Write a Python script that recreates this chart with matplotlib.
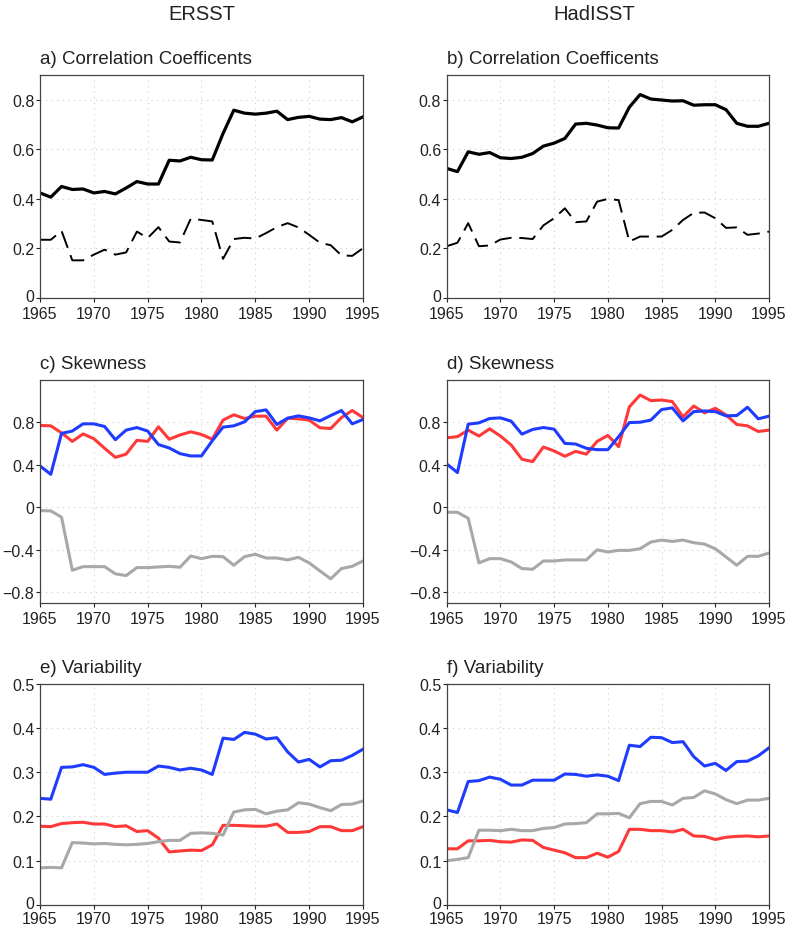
import numpy as np
import matplotlib
matplotlib.use('Agg')
import matplotlib.pyplot as plt
from matplotlib.transforms import ScaledTranslation

plt.rcParams['font.family'] = ['Liberation Sans', 'DejaVu Sans']

years = np.arange(1965, 1996)

# a) ERSST correlation coefficients
corr_ersst_solid = [0.424, 0.407, 0.45, 0.438, 0.44, 0.424, 0.43, 0.42, 0.444, 0.47, 0.46,
                    0.46, 0.556, 0.553, 0.568, 0.558, 0.557, 0.664, 0.758, 0.746, 0.742,
                    0.746, 0.754, 0.72, 0.729, 0.733, 0.722, 0.72, 0.728, 0.711, 0.731]
corr_ersst_dash = [0.235, 0.235, 0.271, 0.152, 0.152, 0.175, 0.195, 0.175, 0.184, 0.268, 0.242,
                   0.286, 0.228, 0.224, 0.32, 0.315, 0.309, 0.158, 0.238, 0.243, 0.24,
                   0.262, 0.286, 0.302, 0.285, 0.255, 0.223, 0.213, 0.172, 0.17, 0.201]
# b) HadISST correlation coefficients
corr_had_solid = [0.523, 0.51, 0.59, 0.58, 0.587, 0.566, 0.563, 0.568, 0.583, 0.613, 0.625,
                  0.644, 0.702, 0.705, 0.698, 0.687, 0.686, 0.77, 0.821, 0.803, 0.799,
                  0.795, 0.796, 0.778, 0.78, 0.78, 0.76, 0.705, 0.693, 0.693, 0.705]
corr_had_dash = [0.209, 0.223, 0.302, 0.209, 0.212, 0.236, 0.243, 0.242, 0.238, 0.293, 0.322,
                 0.362, 0.306, 0.309, 0.389, 0.4, 0.395, 0.228, 0.248, 0.248, 0.248,
                 0.275, 0.315, 0.344, 0.345, 0.322, 0.283, 0.285, 0.255, 0.26, 0.268]

# c) ERSST skewness
skew_ersst_red = [0.77, 0.766, 0.70, 0.62, 0.69, 0.645, 0.555, 0.47, 0.50, 0.63, 0.62,
                  0.757, 0.64, 0.68, 0.71, 0.685, 0.64, 0.82, 0.87, 0.835, 0.857,
                  0.857, 0.726, 0.838, 0.832, 0.82, 0.748, 0.741, 0.844, 0.91, 0.844]
skew_ersst_blue = [0.389, 0.31, 0.695, 0.717, 0.785, 0.785, 0.76, 0.636, 0.726, 0.75, 0.717,
                   0.59, 0.558, 0.505, 0.483, 0.483, 0.626, 0.754, 0.766, 0.804, 0.9,
                   0.916, 0.779, 0.838, 0.86, 0.841, 0.813, 0.863, 0.91, 0.785, 0.826]
skew_ersst_gray = [-0.031, -0.034, -0.093, -0.592, -0.558, -0.558, -0.558, -0.626, -0.642, -0.567, -0.567,
                   -0.561, -0.555, -0.564, -0.458, -0.483, -0.461, -0.464, -0.545, -0.464, -0.442,
                   -0.477, -0.477, -0.495, -0.47, -0.523, -0.598, -0.673, -0.576, -0.555, -0.505]
# d) HadISST skewness
skew_had_red = [0.654, 0.664, 0.726, 0.67, 0.738, 0.67, 0.586, 0.452, 0.43, 0.567, 0.53,
                0.48, 0.526, 0.50, 0.62, 0.676, 0.57, 0.944, 1.056, 1.003, 1.009,
                0.994, 0.85, 0.953, 0.888, 0.931, 0.869, 0.779, 0.766, 0.713, 0.726]
skew_had_blue = [0.408, 0.327, 0.782, 0.794, 0.835, 0.841, 0.81, 0.688, 0.732, 0.75, 0.735,
                 0.601, 0.595, 0.555, 0.542, 0.542, 0.664, 0.797, 0.8, 0.82, 0.919,
                 0.935, 0.813, 0.9, 0.906, 0.9, 0.86, 0.863, 0.941, 0.832, 0.857]
skew_had_gray = [-0.047, -0.047, -0.103, -0.523, -0.483, -0.483, -0.514, -0.576, -0.583, -0.505, -0.505,
                 -0.495, -0.495, -0.495, -0.40, -0.42, -0.405, -0.405, -0.39, -0.327, -0.308,
                 -0.321, -0.308, -0.333, -0.346, -0.39, -0.467, -0.545, -0.461, -0.461, -0.43]

# e) ERSST variability
var_ersst_blue = [0.241, 0.239, 0.311, 0.312, 0.317, 0.311, 0.295, 0.298, 0.30, 0.30, 0.30,
                  0.314, 0.311, 0.305, 0.309, 0.305, 0.295, 0.377, 0.374, 0.39, 0.386,
                  0.375, 0.378, 0.346, 0.323, 0.329, 0.312, 0.326, 0.327, 0.338, 0.352]
var_ersst_red = [0.178, 0.177, 0.184, 0.186, 0.187, 0.183, 0.183, 0.177, 0.179, 0.166, 0.168,
                 0.151, 0.12, 0.122, 0.124, 0.123, 0.136, 0.18, 0.18, 0.179, 0.178,
                 0.178, 0.183, 0.164, 0.164, 0.166, 0.177, 0.177, 0.168, 0.168, 0.177]
var_ersst_gray = [0.084, 0.085, 0.084, 0.141, 0.14, 0.138, 0.139, 0.137, 0.136, 0.137, 0.139,
                  0.143, 0.146, 0.146, 0.162, 0.163, 0.162, 0.158, 0.21, 0.215, 0.216,
                  0.206, 0.212, 0.215, 0.231, 0.228, 0.22, 0.213, 0.227, 0.228, 0.235]
# f) HadISST variability
var_had_blue = [0.215, 0.209, 0.279, 0.281, 0.289, 0.284, 0.271, 0.271, 0.282, 0.282, 0.282,
                0.296, 0.295, 0.291, 0.294, 0.291, 0.281, 0.361, 0.358, 0.379, 0.378,
                0.367, 0.369, 0.335, 0.314, 0.32, 0.304, 0.324, 0.325, 0.337, 0.355]
var_had_red = [0.127, 0.127, 0.145, 0.145, 0.146, 0.143, 0.142, 0.147, 0.146, 0.13, 0.124,
               0.118, 0.107, 0.107, 0.117, 0.108, 0.121, 0.171, 0.171, 0.168, 0.168,
               0.165, 0.171, 0.156, 0.155, 0.148, 0.153, 0.155, 0.156, 0.154, 0.156]
var_had_gray = [0.10, 0.103, 0.107, 0.169, 0.169, 0.168, 0.171, 0.168, 0.168, 0.173, 0.175,
                0.183, 0.184, 0.186, 0.206, 0.206, 0.207, 0.197, 0.229, 0.234, 0.234,
                0.226, 0.241, 0.243, 0.258, 0.251, 0.238, 0.229, 0.237, 0.237, 0.241]

RED = '#ff3838'
BLUE = '#1e3cff'
GRAY = '#a8a8a8'

W, H = 787, 929
fig = plt.figure(figsize=(W / 100, H / 100), dpi=100)


def make_axes(left_px, top_px, right_px, bottom_px):
    return fig.add_axes([left_px / W, 1 - bottom_px / H,
                         (right_px - left_px) / W, (bottom_px - top_px) / H])


def style(ax, title, ylim, yticks, ylabels, xpad=2.5):
    ax.set_xlim(1965, 1995)
    ax.set_ylim(*ylim)
    ax.set_xticks(range(1965, 1996, 5))
    ax.set_yticks(yticks)
    ax.set_yticklabels(ylabels)
    ax.grid(True, linestyle=(0, (1, 4)), color='#cccccc', linewidth=0.8)
    ax.tick_params(direction='out', length=3, width=0.8, labelsize=11.5, pad=1,
                   colors='#222222')
    ax.tick_params(axis='x', pad=xpad)
    for sp in ax.spines.values():
        sp.set_color('#444444')
        sp.set_linewidth(0.9)
    ax.text(0.0, 1.035, title, transform=ax.transAxes, ha='left', va='bottom',
            fontsize=13.5, color='#222222')
    # lift the "0" label at the axis bottom a touch so it clears the year labels
    if ylim[0] == 0:
        lab0 = ax.get_yticklabels()[0]
        lab0.set_transform(lab0.get_transform() + ScaledTranslation(0, 3 / 100, fig.dpi_scale_trans))


lefts = [(40, 363), (446.7, 769)]
rows = [(76, 299), (380.7, 604), (684.7, 906)]

# row 1: correlation
corr_ticks = [0, 0.2, 0.4, 0.6, 0.8]
corr_labels = ['0', '0.2', '0.4', '0.6', '0.8']
for col, (solid, dash, lab) in enumerate([(corr_ersst_solid, corr_ersst_dash, 'a'),
                                          (corr_had_solid, corr_had_dash, 'b')]):
    ax = make_axes(lefts[col][0], rows[0][0], lefts[col][1], rows[0][1])
    ax.plot(years, solid, color='black', lw=2.3, solid_joinstyle='round')
    ax.plot(years, dash, color='black', lw=1.4, dashes=(9, 4))
    style(ax, f'{lab}) Correlation Coefficents', (0, 0.9), corr_ticks, corr_labels)

# row 2: skewness
skew_ticks = [-0.8, -0.4, 0, 0.4, 0.8]
skew_labels = ['\u22120.8', '\u22120.4', '0', '0.4', '0.8']
for col, (r, b, g, lab) in enumerate([(skew_ersst_red, skew_ersst_blue, skew_ersst_gray, 'c'),
                                      (skew_had_red, skew_had_blue, skew_had_gray, 'd')]):
    ax = make_axes(lefts[col][0], rows[1][0], lefts[col][1], rows[1][1])
    ax.plot(years, g, color=GRAY, lw=2.2)
    ax.plot(years, r, color=RED, lw=2.2)
    ax.plot(years, b, color=BLUE, lw=2.2)
    style(ax, f'{lab}) Skewness', (-0.9, 1.2), skew_ticks, skew_labels)

# row 3: variability
var_ticks = [0, 0.1, 0.2, 0.3, 0.4, 0.5]
var_labels = ['0', '0.1', '0.2', '0.3', '0.4', '0.5']
for col, (b, r, g, lab) in enumerate([(var_ersst_blue, var_ersst_red, var_ersst_gray, 'e'),
                                      (var_had_blue, var_had_red, var_had_gray, 'f')]):
    ax = make_axes(lefts[col][0], rows[2][0], lefts[col][1], rows[2][1])
    ax.plot(years, r, color=RED, lw=2.2)
    ax.plot(years, g, color=GRAY, lw=2.2)
    ax.plot(years, b, color=BLUE, lw=2.2)
    style(ax, f'{lab}) Variability', (0, 0.5), var_ticks, var_labels, xpad=1.5)

# column headers
fig.text(201.5 / W, 1 - 14 / H, 'ERSST', ha='center', va='center', fontsize=14.5, color='#222222')
fig.text(594.5 / W, 1 - 14 / H, 'HadISST', ha='center', va='center', fontsize=14.5, color='#222222')

fig.savefig('out.png', dpi=100)
